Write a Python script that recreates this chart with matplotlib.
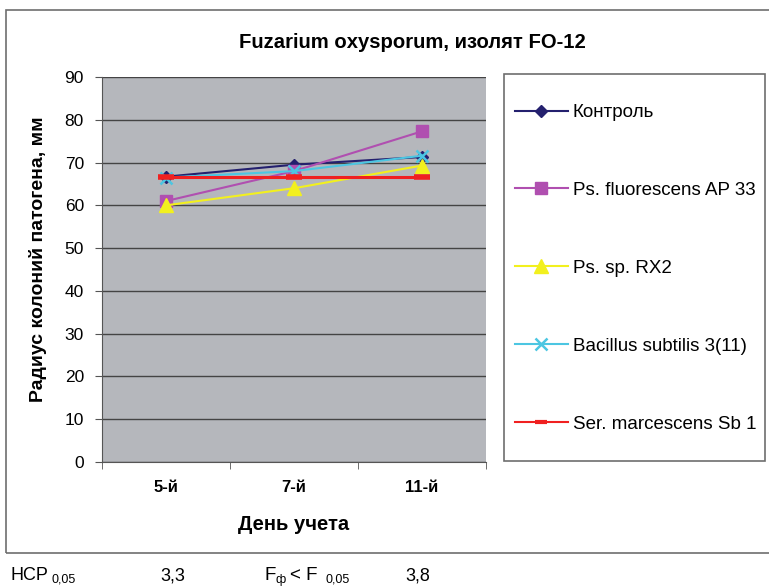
import matplotlib.pyplot as plt
from matplotlib.patches import Rectangle
from matplotlib.lines import Line2D

plt.rcParams['font.family'] = ['Liberation Sans', 'DejaVu Sans']

days = ["5-й", "7-й", "11-й"]
kontrol = [66.7, 69.5, 71.3]
fluorescens = [61.0, 68.0, 77.3]
rx2 = [60.0, 64.0, 69.3]
subtilis = [66.5, 68.0, 71.6]
marcescens = [66.7, 66.7, 66.7]

names = ["Контроль", "Ps. fluorescens AP 33", "Ps. sp. RX2",
         "Bacillus subtilis 3(11)", "Ser. marcescens Sb 1"]
series = [kontrol, fluorescens, rx2, subtilis, marcescens]
colors = ["#24206e", "#b04fb0", "#f2f01e", "#4cc6e2", "#f02020"]
markers = ["D", "s", "^", "x", "_"]
msizes = [6, 9, 10, 9, 11]
mews = [1, 1, 1, 1.8, 4]
lws = [1.5, 1.5, 1.5, 1.5, 2.2]

W, H = 769, 588
fig = plt.figure(figsize=(W / 100, H / 100), dpi=100)

# outer frame
fig.patches.append(Rectangle((6 / W, 1 - 553 / H), 780 / W, 543 / H,
                             transform=fig.transFigure, fill=False,
                             edgecolor="#6e6e6e", lw=1.2))

ax = fig.add_axes([102 / W, 1 - 462 / H, 384 / W, 385 / H])
ax.set_facecolor("#b5b7bc")
x = list(range(len(days)))
handles = []
for s, c, m, ms, mew, lw, n in zip(series, colors, markers, msizes, mews, lws, names):
    ax.plot(x, s, color=c, marker=m, markersize=ms, markeredgewidth=mew,
            markerfacecolor=c, markeredgecolor=c, lw=lw,
            clip_on=False, zorder=3)
    # legend handle: thinner line, smaller red dash
    if m == "_":
        handles.append(Line2D([], [], color=c, lw=1.5, marker=m, markersize=8,
                              markeredgewidth=3, label=n))
    else:
        handles.append(Line2D([], [], color=c, lw=1.5, marker=m, markersize=ms,
                              markeredgewidth=mew, markerfacecolor=c,
                              markeredgecolor=c, label=n))

ax.set_xlim(-0.5, 2.5)
ax.set_ylim(0, 90)
ax.set_yticks(range(0, 91, 10))
ax.set_xticks(x)
ax.set_xticklabels(days, fontweight="bold")
ax.set_xticks([-0.5, 0.5, 1.5, 2.5], minor=True)
ax.tick_params(axis='x', which='major', length=0, pad=13, labelsize=12)
ax.tick_params(axis='x', which='minor', length=5, color="#555555")
ax.tick_params(axis='y', length=5, color="#555555", labelsize=12.5, pad=8)
ax.yaxis.grid(True, color="#444444", lw=1)
ax.set_axisbelow(True)
for sp in ["top", "right"]:
    ax.spines[sp].set_visible(False)
ax.spines["left"].set_color("#555555")
ax.spines["bottom"].set_color("#555555")

fig.text(412 / W, 1 - 42 / H, "Fuzarium oxysporum, изолят FO-12",
         ha="center", va="center", fontsize=14.6, fontweight="bold")
fig.text(38 / W, 1 - 259 / H, "Радиус колоний патогена, мм", rotation=90,
         ha="center", va="center", fontsize=14, fontweight="bold")
fig.text(294 / W, 1 - 524 / H, "День учета", ha="center", va="center",
         fontsize=14.5, fontweight="bold")

# legend box
fig.patches.append(Rectangle((504 / W, 1 - 461 / H), 261 / W, 387 / H,
                             transform=fig.transFigure, facecolor="white",
                             edgecolor="#6e6e6e", lw=1.2))
leg = fig.legend(handles=handles, loc="upper left",
                 bbox_to_anchor=(515 / W, 1 - 104 / H), frameon=False,
                 fontsize=13.5, handlelength=2.8, handletextpad=0.27,
                 labelspacing=3.24, numpoints=1, borderpad=0, borderaxespad=0)

# bottom notes
yb = 1 - 576 / H
ys = 1 - 580 / H
fig.text(10 / W, yb, "НСР", ha="left", va="center", fontsize=13)
fig.text(52 / W, ys, "0,05", ha="left", va="center", fontsize=9)
fig.text(160 / W, yb, "3,3", ha="left", va="center", fontsize=13)
fig.text(265 / W, yb, "F", ha="left", va="center", fontsize=13.5)
fig.text(276 / W, ys, "ф", ha="left", va="center", fontsize=9)
fig.text(290 / W, yb, "< F", ha="left", va="center", fontsize=13.5)
fig.text(325 / W, ys, "0,05", ha="left", va="center", fontsize=9)
fig.text(405 / W, yb, "3,8", ha="left", va="center", fontsize=13)

fig.savefig("out.png", dpi=100)
